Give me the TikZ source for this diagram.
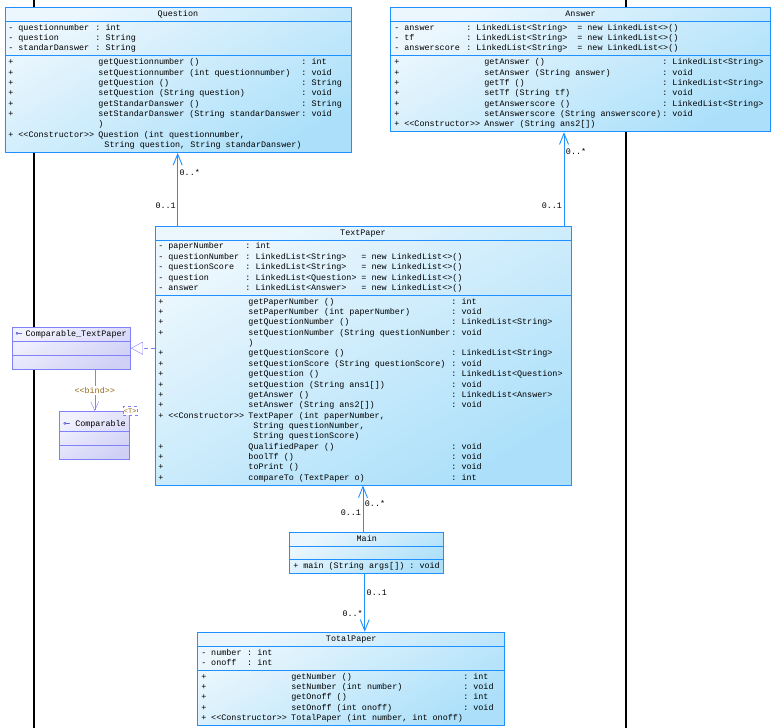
\documentclass[tikz,border=0pt]{standalone}
\usepackage{fontspec}
\setmonofont{Liberation Mono}
\newfontfamily\symfont{DejaVu Sans}
\usepackage{graphicx}
\usetikzlibrary{positioning,arrows.meta,calc,shapes.multipart}
\definecolor{cLine}{RGB}{30,144,255}
\definecolor{cTop}{RGB}{236,247,253}
\definecolor{cBot}{RGB}{172,224,250}
\definecolor{iLine}{RGB}{128,128,248}
\definecolor{iTop}{RGB}{242,242,254}
\definecolor{iBot}{RGB}{208,208,246}
\definecolor{icoBlue}{RGB}{40,40,200}
\definecolor{tGold}{RGB}{150,105,20}
\tikzset{
  cls/.style={draw=cLine, line width=0.9pt, top color=cTop, bottom color=cBot,
              shading angle=30, rectangle split, rectangle split parts=3,
              inner xsep=3.5pt, inner ysep=1.3pt, align=left,
              font=\ttfamily\fontsize{8.42}{10.35}\selectfont},
  iface/.style={cls, draw=iLine, top color=iTop, bottom color=iBot, shading angle=30},
  tparam/.style={draw=iLine, dashed, fill=white, inner sep=1pt, minimum height=8.7pt,
                 text=tGold, font=\ttfamily\fontsize{7}{7}\selectfont},
  assoc/.style={-{Straight Barb[length=11pt,width=9pt]}, draw=cLine, line width=0.9pt},
  realize/.style={-{Triangle[open,length=12pt,width=13pt]}, draw=iLine, dash pattern=on 4pt off 3pt},
  bind/.style={-{Straight Barb[length=9pt,width=8pt]}, draw=iLine},
  mult/.style={font=\ttfamily\fontsize{8.42}{10}\selectfont, inner sep=1.5pt},
  bindlbl/.style={mult, fill=white, text=tGold},
  lifeline/.style={draw=black, line width=1.3pt},
}
% monospaced spaces (align=left would shrink them)
\newcommand{\UmlSp}{\spaceskip=0.6em\xspaceskip=0.6em\relax}
\newcommand{\UmlClass}[5][]{%
  \node[cls,#1] (#2) {\UmlSp\strut\hfill#3\hfill\strut\nodepart{two}\UmlSp\strut#4\strut\nodepart{three}\UmlSp\strut#5\strut};}
\newcommand{\UmlAttr}[3]{\makebox[10pt][l]{-}\makebox[#1][l]{#2}#3}
\newcommand{\UmlOp}[3]{\makebox[90pt][l]{+}\makebox[#1][l]{#2}#3}
\newcommand{\UmlCtor}[1]{\makebox[10pt][l]{+}\makebox[80pt][l]{<<Constructor>>}#1}
\newcommand{\IfcIcon}{\textcolor{icoBlue}{\reflectbox{\symfont ⊸}}}

\begin{document}
\begin{tikzpicture}[x=1pt, y=-1pt]
  \useasboundingbox (0,0) rectangle (777,728);
  % --- lifelines behind the classes ---------------------------------------
  \draw[lifeline] (34,0) -- (34,728);
  \draw[lifeline] (626,0) -- (626,728);

  % --- Question and Answer ------------------------------------------------
  \UmlClass[text width=339pt, at={(4.5,7)}, anchor=north west]{question}{Question}
    {\UmlAttr{77pt}{questionnumber}{: int}\\
     \UmlAttr{77pt}{question}{: String}\\
     \UmlAttr{77pt}{standarDanswer}{: String}}
    {\UmlOp{203pt}{getQuestionnumber ()}{: int}\\
     \UmlOp{203pt}{setQuestionnumber (int questionnumber)}{: void}\\
     \UmlOp{203pt}{getQuestion ()}{: String}\\
     \UmlOp{203pt}{setQuestion (String question)}{: void}\\
     \UmlOp{203pt}{getStandarDanswer ()}{: String}\\
     \UmlOp{203pt}{setStandarDanswer (String standarDanswer}{: void}\\
     \hspace*{90pt})\\
     \UmlCtor{Question (int questionnumber,}\\
     \hspace*{96pt}String question, String standarDanswer)}
  \UmlClass[text width=372.5pt, right=39pt of question.north east, anchor=north west]{answer}{Answer}
    {\UmlAttr{62pt}{answer}{\makebox[111pt][l]{: LinkedList<String>}= new LinkedList<>()}\\
     \UmlAttr{62pt}{tf}{\makebox[111pt][l]{: LinkedList<String>}= new LinkedList<>()}\\
     \UmlAttr{62pt}{answerscore}{\makebox[111pt][l]{: LinkedList<String>}= new LinkedList<>()}}
    {\UmlOp{178pt}{getAnswer ()}{: LinkedList<String>}\\
     \UmlOp{178pt}{setAnswer (String answer)}{: void}\\
     \UmlOp{178pt}{getTf ()}{: LinkedList<String>}\\
     \UmlOp{178pt}{setTf (String tf)}{: void}\\
     \UmlOp{178pt}{getAnswerscore ()}{: LinkedList<String>}\\
     \UmlOp{178pt}{setAnswerscore (String answerscore)}{: void}\\
     \UmlCtor{Answer (String ans2[])}}

  % --- TextPaper in the middle --------------------------------------------
  \UmlClass[text width=409pt, at={(154.5,225.7)}, anchor=north west]{textpaper}{TextPaper}
    {\UmlAttr{77pt}{paperNumber}{: int}\\
     \UmlAttr{77pt}{questionNumber}{\makebox[116pt][l]{: LinkedList<String>}= new LinkedList<>()}\\
     \UmlAttr{77pt}{questionScore}{\makebox[116pt][l]{: LinkedList<String>}= new LinkedList<>()}\\
     \UmlAttr{77pt}{question}{\makebox[116pt][l]{: LinkedList<Question>}= new LinkedList<>()}\\
     \UmlAttr{77pt}{answer}{\makebox[116pt][l]{: LinkedList<Answer>}= new LinkedList<>()}}
    {\UmlOp{203pt}{getPaperNumber ()}{: int}\\
     \UmlOp{203pt}{setPaperNumber (int paperNumber)}{: void}\\
     \UmlOp{203pt}{getQuestionNumber ()}{: LinkedList<String>}\\
     \UmlOp{203pt}{setQuestionNumber (String questionNumber}{: void}\\
     \hspace*{90pt})\\
     \UmlOp{203pt}{getQuestionScore ()}{: LinkedList<String>}\\
     \UmlOp{203pt}{setQuestionScore (String questionScore)}{: void}\\
     \UmlOp{203pt}{getQuestion ()}{: LinkedList<Question>}\\
     \UmlOp{203pt}{setQuestion (String ans1[])}{: void}\\
     \UmlOp{203pt}{getAnswer ()}{: LinkedList<Answer>}\\
     \UmlOp{203pt}{setAnswer (String ans2[])}{: void}\\
     \UmlCtor{TextPaper (int paperNumber,}\\
     \hspace*{95pt}String questionNumber,\\
     \hspace*{95pt}String questionScore)\\
     \UmlOp{203pt}{QualifiedPaper ()}{: void}\\
     \UmlOp{203pt}{boolTf ()}{: void}\\
     \UmlOp{203pt}{toPrint ()}{: void}\\
     \UmlOp{203pt}{compareTo (TextPaper o)}{: int}}

  % --- Main and TotalPaper below ------------------------------------------
  \UmlClass[text width=147pt, at={(289.3,531.7)}, anchor=north west]{main}{Main}
    {}{+ main (String args[]) : void}
  \UmlClass[text width=300pt, at={(197.3,631.7)}, anchor=north west]{totalpaper}{TotalPaper}
    {\UmlAttr{36pt}{number}{: int}\\
     \UmlAttr{36pt}{onoff}{: int}}
    {\UmlOp{172pt}{getNumber ()}{: int}\\
     \UmlOp{172pt}{setNumber (int number)}{: void}\\
     \UmlOp{172pt}{getOnoff ()}{: int}\\
     \UmlOp{172pt}{setOnoff (int onoff)}{: void}\\
     \UmlCtor{TotalPaper (int number, int onoff)}}

  % --- interfaces on the left ---------------------------------------------
  \node[iface, text width=111.3pt, at={(11.7,327)}, anchor=north west] (cmptp)
    {\strut\makebox[10pt][l]{\IfcIcon}Comparable\_TextPaper\strut\nodepart{two}\strut\nodepart{three}\strut};
  \node[iface, text width=63pt, at={(59.3,411)}, anchor=north west] (comparable)
    {\rule[-2.7pt]{0pt}{16.4pt}\makebox[12pt][l]{\IfcIcon}Comparable\nodepart{two}\strut\nodepart{three}\strut};
  \node[tparam] (tparam) at (comparable.north east) {<T>};

  % --- associations ---------------------------------------------------------
  \coordinate (qfoot) at ([xshift=23.2pt]textpaper.north west);
  \coordinate (afoot) at ([xshift=-7.4pt]textpaper.north east);
  \coordinate (mtop) at (textpaper.south |- main.north);
  \coordinate (mbot) at ([xshift=-2pt]main.south);
  \draw[assoc] (qfoot) -- node[mult, pos=0.73, anchor=west]{0..*}
                          node[mult, pos=0.27, anchor=east]{0..1} (qfoot |- question.south);
  \draw[assoc] (afoot) -- node[mult, pos=0.79, anchor=west]{0..*}
                          node[mult, pos=0.21, anchor=east]{0..1} (afoot |- answer.south);
  \draw[assoc] (mtop) -- node[mult, pos=0.60, anchor=west]{0..*}
                         node[mult, pos=0.41, anchor=east]{0..1} (textpaper.south);
  \draw[assoc] (mbot) -- node[mult, pos=0.32, anchor=west]{0..1}
                         node[mult, pos=0.69, anchor=east]{0..*} (mbot |- totalpaper.north);

  % --- realization and binding ----------------------------------------------
  \coordinate (rfoot) at (textpaper.west |- cmptp.east);
  \coordinate (btop) at (comparable.north |- cmptp.south);
  \draw[realize] (rfoot) -- (cmptp.east);
  \draw[bind] (btop) -- node[bindlbl]{<<bind>>} (comparable.north);
\end{tikzpicture}
\end{document}
